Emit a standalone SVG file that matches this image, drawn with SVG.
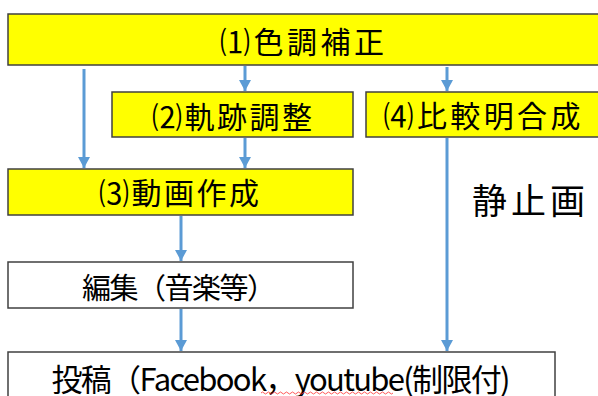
<svg xmlns="http://www.w3.org/2000/svg" width="598" height="396" viewBox="0 0 598 396">
<style>
.box{stroke:#404040;stroke-width:1.5}
.y{fill:#ffff00}
.w{fill:#ffffff}
.t{font-family:"Noto Sans CJK JP","Noto Sans",sans-serif;font-size:30px;fill:#000;text-anchor:middle;dominant-baseline:central}
.c{stroke:#5b9bd5;stroke-width:3;fill:none}
</style>
<defs>
<marker id="ah" markerUnits="userSpaceOnUse" markerWidth="11" markerHeight="12" refX="11" refY="6" orient="auto">
<path d="M0,0 L11,6 L0,12 z" fill="#5b9bd5"/>
</marker>
</defs>
<rect width="598" height="396" fill="#ffffff"/>
<g id="connectors">
<line class="c" x1="84" y1="69" x2="84" y2="168" marker-end="url(#ah)"/>
<line class="c" x1="245" y1="66" x2="245" y2="91" marker-end="url(#ah)"/>
<line class="c" x1="447" y1="67" x2="447" y2="91" marker-end="url(#ah)"/>
<line class="c" x1="245" y1="138" x2="245" y2="168" marker-end="url(#ah)"/>
<line class="c" x1="447" y1="138" x2="447" y2="351" marker-end="url(#ah)"/>
<line class="c" x1="181" y1="216" x2="181" y2="261" marker-end="url(#ah)"/>
<line class="c" x1="181" y1="309" x2="181" y2="351" marker-end="url(#ah)"/>
</g>
<g id="n1">
<rect class="box y" x="8" y="14" width="600" height="51"/>
<text class="t" x="302" y="40" textLength="164" lengthAdjust="spacing">⑴色調補正</text>
</g>
<g id="n2">
<rect class="box y" x="112" y="92" width="241" height="45"/>
<text class="t" x="232" y="115" textLength="160" lengthAdjust="spacing">⑵軌跡調整</text>
</g>
<g id="n4">
<rect class="box y" x="366" y="92" width="240" height="45"/>
<text class="t" x="482" y="114" textLength="197" lengthAdjust="spacing">⑷比較明合成</text>
</g>
<g id="n3">
<rect class="box y" x="8" y="169" width="345" height="46"/>
<text class="t" x="179" y="191" textLength="160" lengthAdjust="spacing">⑶動画作成</text>
</g>
<g id="n5">
<rect class="box w" x="8" y="262" width="345" height="46"/>
<text class="t" x="179" y="285.5" style="font-size:29px" textLength="194" lengthAdjust="spacing">編集（音楽等）</text>
</g>
<g id="n6">
<rect class="box w" x="8" y="352" width="547" height="60"/>
<text class="t" x="281" y="377" style="font-size:31px" textLength="459" lengthAdjust="spacing">投稿（Facebook，youtube(制限付)</text>
<path d="M261,393 q1.5,-2 3,0 t3,0 t3,0 t3,0 t3,0 t3,0 t3,0 t3,0 t3,0 t3,0 t3,0 t3,0 t3,0 t3,0 t3,0 t3,0 t3,0 t3,0 t3,0 t3,0 t3,0 t3,0 t3,0 t3,0 t3,0 t3,0 t3,0 t3,0 t3,0 t3,0 t3,0 t3,0 t3,0 t3,0 t3,0 t3,0 t3,0 t3,0 t3,0 t3,0 t3,0 t3,0 t3,0 t3,0" fill="none" stroke="#ff3030" stroke-width="0.8"/>
</g>
<g id="label">
<text class="t" x="528.5" y="198.5" style="font-size:35px" textLength="113" lengthAdjust="spacing">静止画</text>
</g>
</svg>
